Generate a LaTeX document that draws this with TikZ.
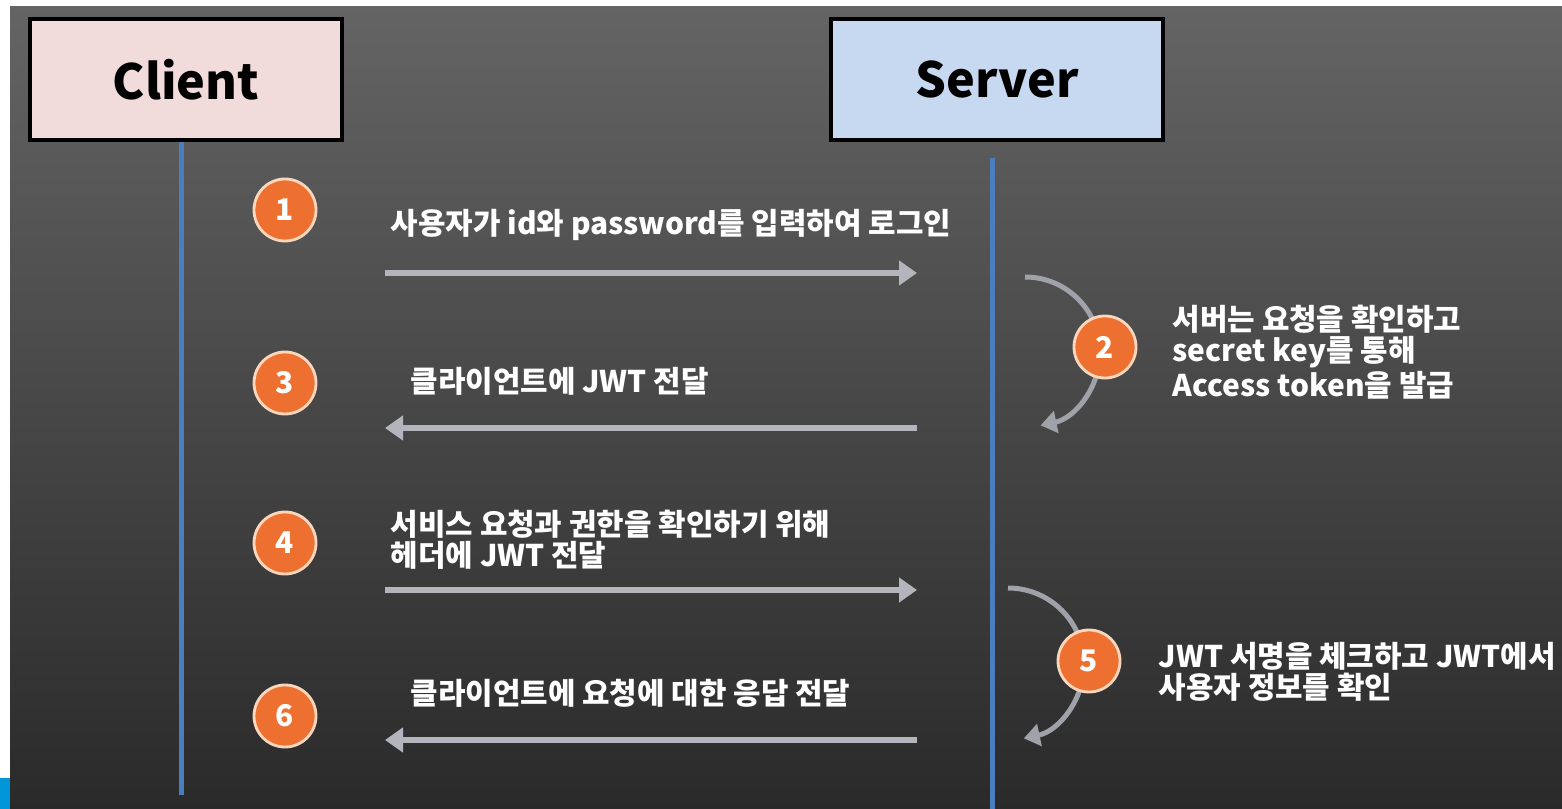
\documentclass[tikz,border=0pt]{standalone}
\usepackage{fontspec}
\setmainfont{Noto Sans CJK KR}
\usetikzlibrary{arrows.meta}
\definecolor{clientpink}{RGB}{242,220,219}
\definecolor{serverblue}{RGB}{198,217,241}
\definecolor{lifeblue}{RGB}{74,126,191}
\definecolor{badgeorange}{RGB}{238,112,48}
\definecolor{badgerim}{RGB}{250,214,188}
\definecolor{msggray}{RGB}{180,180,188}
\definecolor{curvegray}{RGB}{160,162,170}
\definecolor{cornerblue}{RGB}{0,150,217}
\tikzstyle{actor} = [rectangle, minimum height=1.21cm, draw=black, line width=0.04cm, font=\fontsize{13.8}{16}\selectfont\bfseries, text=black]
\tikzstyle{badge} = [circle, minimum size=0.62cm, inner sep=0pt, fill=badgeorange, draw=badgerim, line width=0.8pt, text=white, font=\fontsize{8.5}{10}\selectfont\bfseries]
\tikzstyle{msgtext} = [anchor=west, align=left, inner sep=0pt, text=white, font=\fontsize{8.5}{8.9}\selectfont\bfseries]
\tikzstyle{lifeline} = [lifeblue, line width=0.05cm]
\tikzstyle{arrow} = [msggray, line width=0.06cm, -{Triangle[length=0.18cm, width=0.24cm]}]
\tikzstyle{turn} = [curvegray, line width=0.05cm, -{Triangle[length=0.16cm, width=0.22cm]}]

\begin{document}
\begin{tikzpicture}

\useasboundingbox (0,0) rectangle (15.62,-8.09);
\fill[white] (0,0) rectangle (15.62,-8.09);
\shade[top color={rgb,255:red,100;green,100;blue,100}, middle color={rgb,255:red,72;green,72;blue,72}, bottom color={rgb,255:red,42;green,42;blue,42}] (0.10,-0.07) rectangle (15.62,-8.09);
\fill[cornerblue] (0,-7.78) rectangle (0.10,-8.09);

\node (client) [actor, fill=clientpink, minimum width=3.12cm] at (1.86,-0.795) {Client};
\node (server) [actor, fill=serverblue, minimum width=3.32cm] at (9.97,-0.795) {Server};

\coordinate (cend) at (1.81,-7.95);
\coordinate (stop) at (9.92,-1.58);
\coordinate (send) at (9.92,-8.09);
\draw [lifeline] (client.south -| cend) -- (cend);
\draw [lifeline] (stop) -- (send);

\coordinate (m1l) at (3.85,-2.73);
\coordinate (m1r) at (9.17,-2.73);
\coordinate (m3l) at (3.85,-4.28);
\coordinate (m3r) at (9.17,-4.28);
\coordinate (m4l) at (3.85,-5.90);
\coordinate (m4r) at (9.17,-5.90);
\coordinate (m6l) at (3.85,-7.40);
\coordinate (m6r) at (9.17,-7.40);
\draw [arrow] (m1l) -- (m1r);
\draw [arrow] (m3r) -- (m3l);
\draw [arrow] (m4l) -- (m4r);
\draw [arrow] (m6r) -- (m6l);

\coordinate (t2) at (10.25,-2.77);
\coordinate (t5) at (10.08,-5.88);
\draw [turn] (t2) arc [start angle=90, end angle=-78, radius=0.75];
\draw [turn] (t5) arc [start angle=90, end angle=-78, radius=0.76];

\node (b1) [badge] at (2.85,-2.10) {1};
\node (b2) [badge] at (11.05,-3.47) {2};
\node (b3) [badge] at (2.85,-3.83) {3};
\node (b4) [badge] at (2.85,-5.43) {4};
\node (b5) [badge] at (10.89,-6.61) {5};
\node (b6) [badge] at (2.85,-7.16) {6};

\node (l1) [msgtext] at (3.90,-2.25) {사용자가 id와 password를 입력하여 로그인};
\node (l2) [msgtext] at (11.72,-3.52) {서버는 요청을 확인하고\\secret key를 통해\\Access token을 발급};
\node (l3) [msgtext] at (4.10,-3.81) {클라이언트에 JWT 전달};
\node (l4) [msgtext] at (3.90,-5.40) {서비스 요청과 권한을 확인하기 위해\\헤더에 JWT 전달};
\node (l5) [msgtext] at (11.58,-6.72) {JWT 서명을 체크하고 JWT에서\\사용자 정보를 확인};
\node (l6) [msgtext] at (4.10,-6.93) {클라이언트에 요청에 대한 응답 전달};

\end{tikzpicture}
\end{document}
